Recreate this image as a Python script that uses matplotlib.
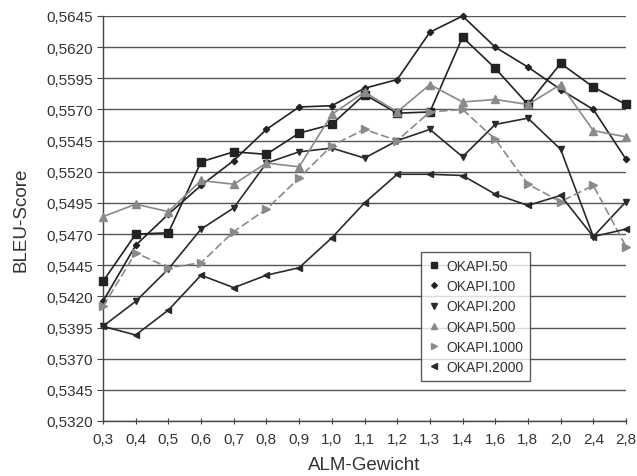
import matplotlib
matplotlib.use("Agg")
import matplotlib.pyplot as plt
from matplotlib.ticker import FixedLocator

plt.rcParams['font.family'] = ['Liberation Sans', 'DejaVu Sans']

categories = ["0,3", "0,4", "0,5", "0,6", "0,7", "0,8", "0,9", "1,0", "1,1", "1,2",
              "1,3", "1,4", "1,6", "1,8", "2,0", "2,4", "2,8"]

okapi_50 = [0.5432, 0.5470, 0.5471, 0.5528, 0.5536, 0.5534, 0.5551, 0.5558, 0.5582, 0.5567,
            0.5568, 0.5628, 0.5603, 0.5574, 0.5607, 0.5588, 0.5574]
okapi_100 = [0.5416, 0.5461, 0.5486, 0.5509, 0.5529, 0.5554, 0.5572, 0.5573, 0.5587, 0.5594,
             0.5632, 0.5645, 0.5620, 0.5604, 0.5586, 0.5570, 0.5530]
okapi_200 = [0.5396, 0.5416, 0.5442, 0.5474, 0.5491, 0.5527, 0.5536, 0.5539, 0.5531, 0.5545,
             0.5554, 0.5532, 0.5558, 0.5563, 0.5538, 0.5468, 0.5496]
okapi_500 = [0.5484, 0.5494, 0.5488, 0.5513, 0.5510, 0.5527, 0.5524, 0.5566, 0.5584, 0.5568,
             0.5590, 0.5576, 0.5578, 0.5574, 0.5590, 0.5553, 0.5548]
okapi_1000 = [0.5412, 0.5455, 0.5443, 0.5447, 0.5472, 0.5490, 0.5515, 0.5541, 0.5554, 0.5545,
              0.5568, 0.5570, 0.5546, 0.5510, 0.5496, 0.5509, 0.5460]
okapi_2000 = [0.5396, 0.5389, 0.5409, 0.5437, 0.5427, 0.5437, 0.5443, 0.5467, 0.5495, 0.5518,
              0.5518, 0.5517, 0.5502, 0.5493, 0.5501, 0.5468, 0.5474]

y_ticks = [0.5320, 0.5345, 0.5370, 0.5395, 0.5420, 0.5445, 0.5470, 0.5495, 0.5520,
           0.5545, 0.5570, 0.5595, 0.5620, 0.5645]

series = [
    ("OKAPI.50", okapi_50, dict(color="#222222", marker="s", ms=5.5, ls="-")),
    ("OKAPI.100", okapi_100, dict(color="#222222", marker="D", ms=3.2, ls="-")),
    ("OKAPI.200", okapi_200, dict(color="#2a2a2a", marker="v", ms=5, ls="-")),
    ("OKAPI.500", okapi_500, dict(color="#8a8a8a", marker="^", ms=5.5, ls="-")),
    ("OKAPI.1000", okapi_1000, dict(color="#8a8a8a", marker=">", ms=5.5, ls=(0, (5, 2)))),
    ("OKAPI.2000", okapi_2000, dict(color="#2a2a2a", marker="<", ms=5, ls="-")),
]

fig = plt.figure(figsize=(6.37, 4.77), dpi=100)
ax = fig.add_axes([103/637, 55/477, 523/637, 405/477])

x = list(range(len(categories)))
handles = []
for name, vals, st in series:
    ax.plot(x, vals, color=st["color"], lw=1.2, ls=st["ls"], marker=st["marker"],
            ms=st["ms"], mfc=st["color"], mec=st["color"], clip_on=False, zorder=3)
    h, = ax.plot([], [], ls="none", marker=st["marker"], ms=st["ms"] * 0.9,
                 mfc=st["color"], mec=st["color"], label=name)
    handles.append(h)

ax.set_xlim(0, len(categories) - 1)
ax.set_ylim(y_ticks[0], y_ticks[-1])
ax.set_xticks(x)
ax.set_xticklabels(categories)
ax.yaxis.set_major_locator(FixedLocator(y_ticks))
ax.set_yticklabels([f"{v:.4f}".replace(".", ",") for v in y_ticks])

ax.yaxis.grid(True, color="#555555", lw=1.0)
ax.xaxis.grid(False)
ax.set_axisbelow(True)
for s in ["top", "right"]:
    ax.spines[s].set_visible(False)
for s in ["left", "bottom"]:
    ax.spines[s].set_color("#444444")
    ax.spines[s].set_linewidth(1.0)

ax.tick_params(axis="both", colors="#444444", labelcolor="#333333", labelsize=11,
               length=4, width=0.8)
ax.tick_params(axis="y", pad=3)
ax.tick_params(axis="x", direction="inout", pad=6)

ax.set_xlabel("ALM-Gewicht", fontsize=13.5, color="#333333", labelpad=7)
ax.set_ylabel("BLEU-Score", fontsize=13.5, color="#333333", labelpad=12)

leg = ax.legend(handles=handles, loc="upper left", bbox_to_anchor=((421-103)/523, (422-253)/405),
                frameon=True, fancybox=False, fontsize=10, handlelength=0.8,
                handletextpad=0.5, labelspacing=0.45, borderpad=0.5, borderaxespad=0)
leg.get_frame().set_edgecolor("#333333")
leg.get_frame().set_linewidth(1.0)
for t in leg.get_texts():
    t.set_color("#333333")

fig.savefig("out.png", dpi=100)
